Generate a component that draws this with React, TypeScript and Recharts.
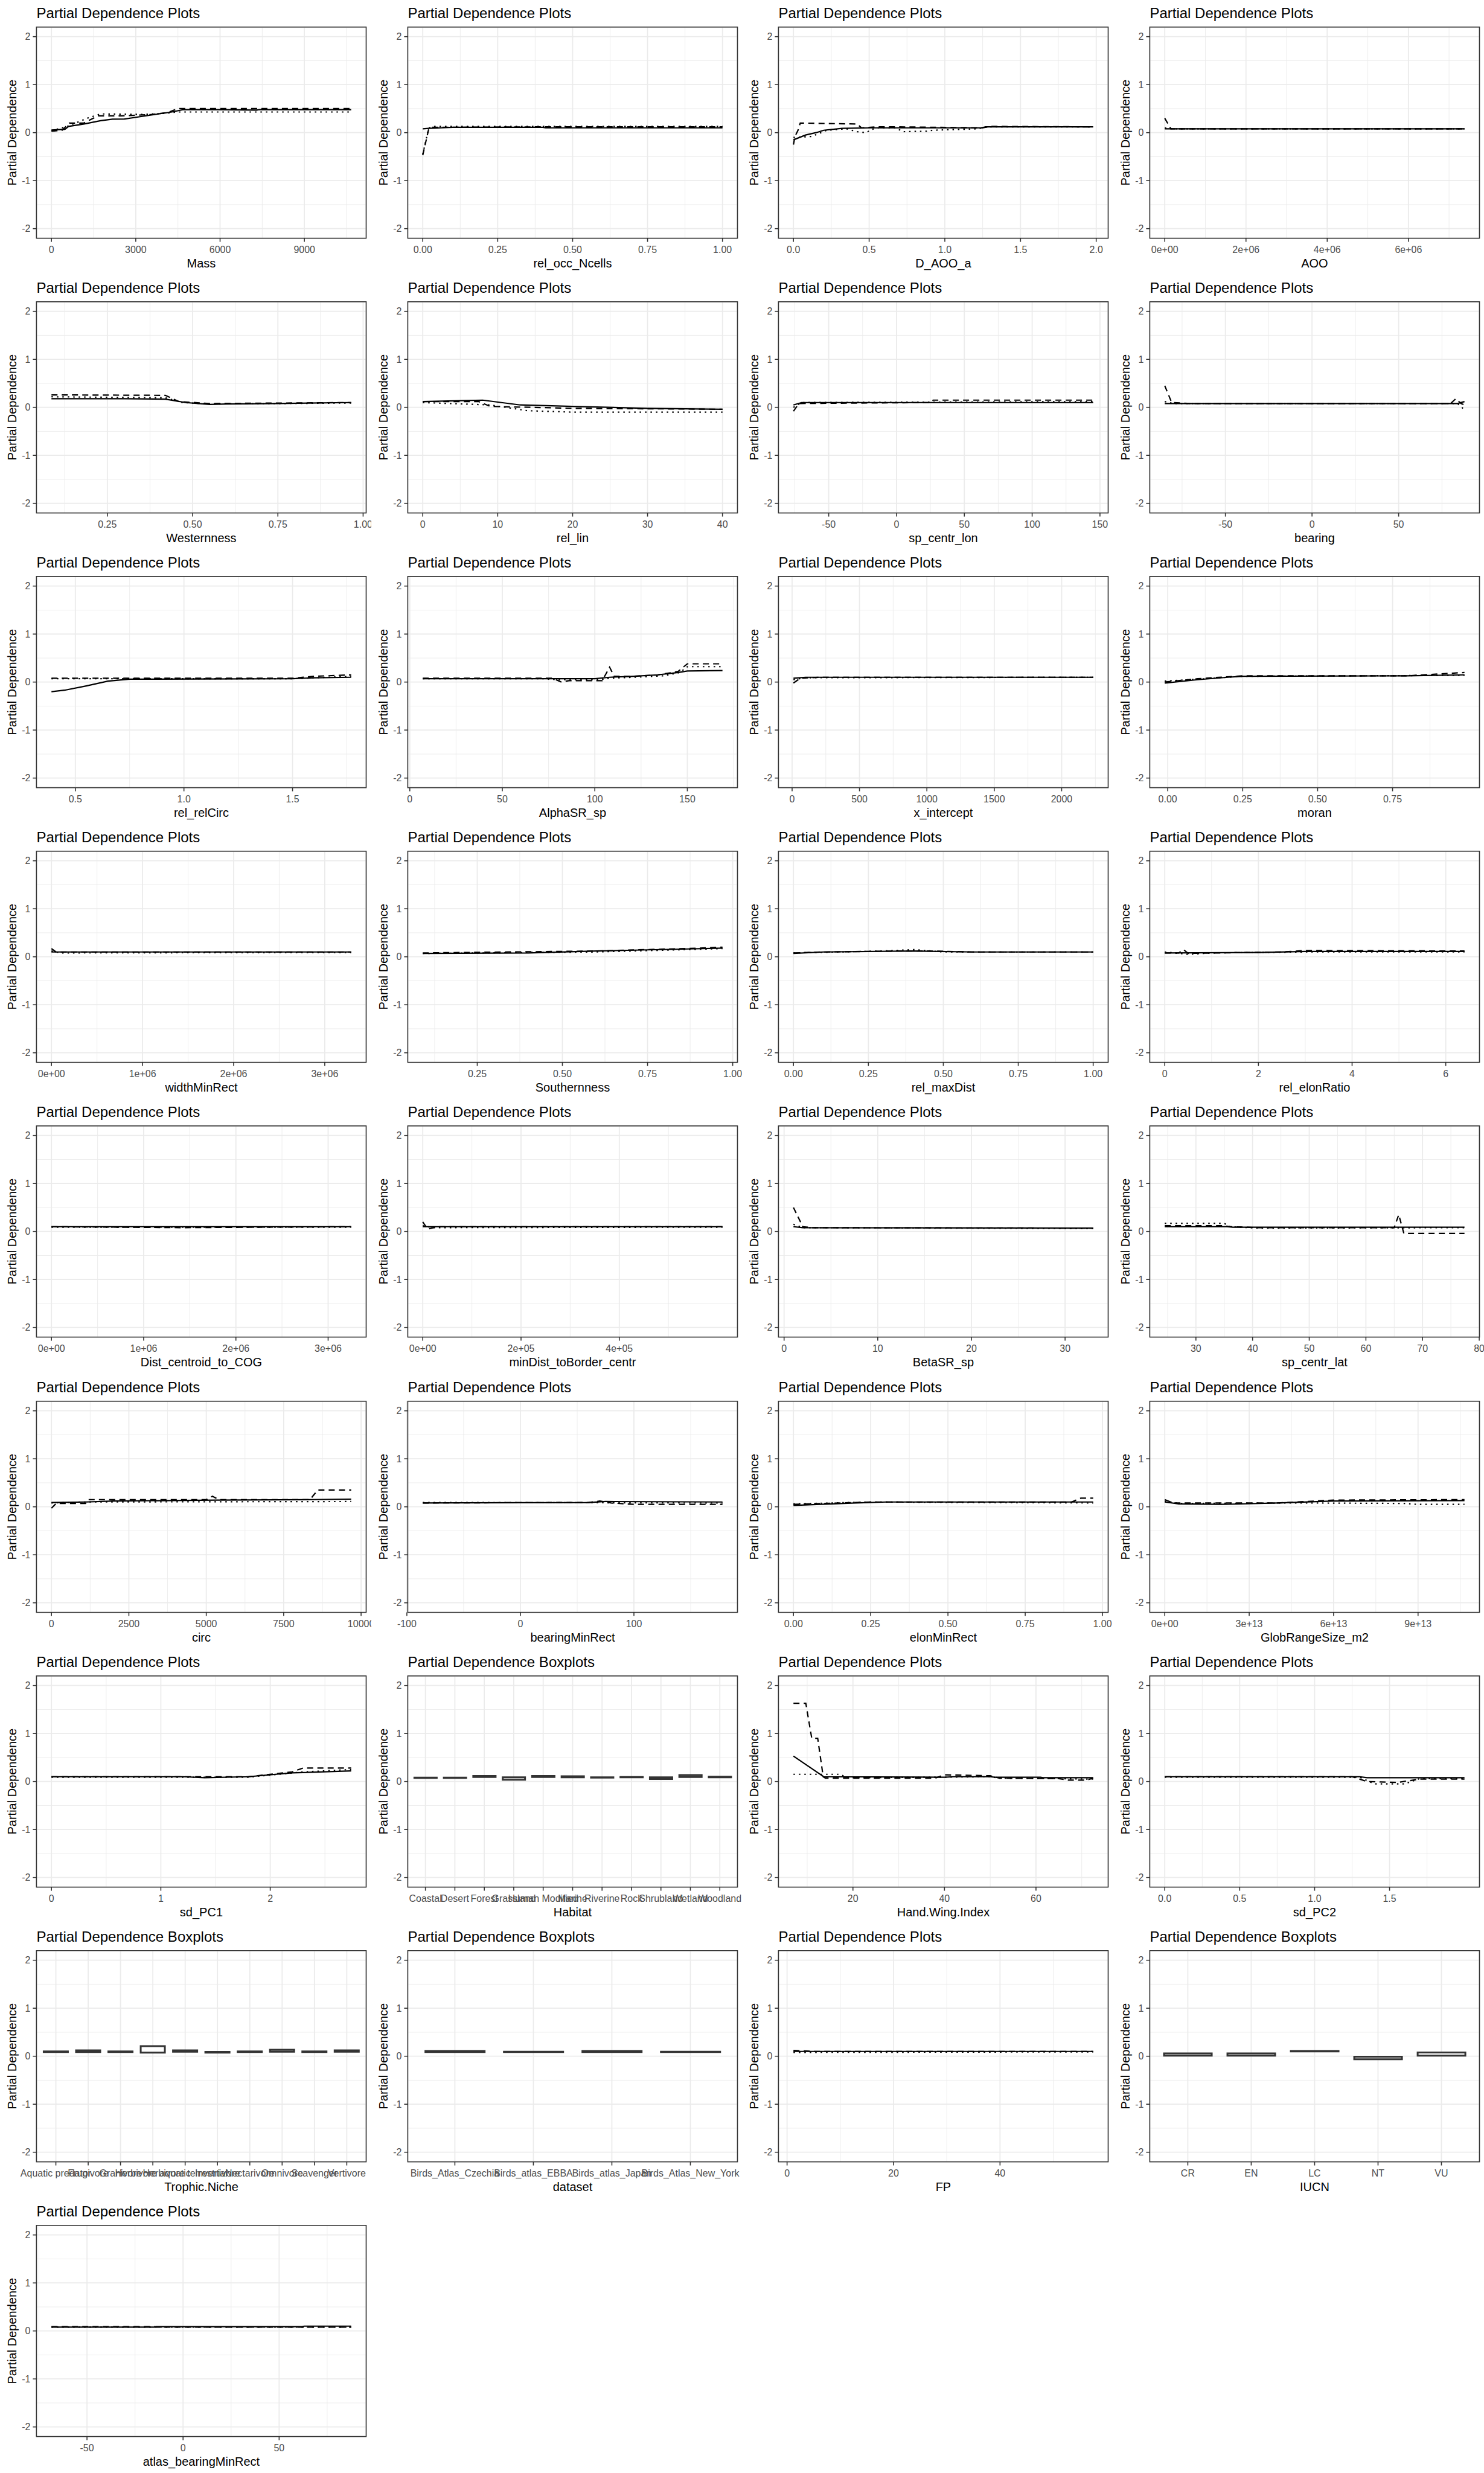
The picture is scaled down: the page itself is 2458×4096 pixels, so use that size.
import React from 'react';
import { LineChart, Line, BarChart, Bar, XAxis, YAxis, CartesianGrid } from 'recharts';

// ---------- values ----------
// each series is a list of [x, partial dependence] pairs

const massTicks = [0, 3000, 6000, 9000];
const massLabels = ['0', '3000', '6000', '9000'];
const massSolid = [[0, 0.055], [480, 0.07], [610, 0.13], [1160, 0.18], [1750, 0.25], [2170, 0.28], [2600, 0.285], [3010, 0.32], [3690, 0.38], [4280, 0.43], [4700, 0.48], [6000, 0.48], [7300, 0.47], [7400, 0.48], [10665, 0.48]];
const massDashed = [[0, 0.03], [380, 0.05], [640, 0.2], [1150, 0.2], [1660, 0.35], [2500, 0.35], [2900, 0.36], [3600, 0.38], [4150, 0.42], [4480, 0.5], [10665, 0.5]];
const massDotted = [[0, 0.04], [560, 0.13], [1320, 0.31], [1750, 0.39], [3260, 0.38], [4000, 0.4], [4480, 0.43], [10665, 0.43]];

const occTicks = [0, 0.25, 0.5, 0.75, 1];
const occLabels = ['0.00', '0.25', '0.50', '0.75', '1.00'];
const occSolid = [[0, 0.08], [0.02, 0.09], [0.06, 0.1], [0.1, 0.11], [0.4, 0.11], [0.41, 0.1], [1, 0.1]];
const occDashed = [[0, -0.47], [0.02, 0.08], [0.03, 0.11], [0.4, 0.12], [1, 0.12]];
const occDotted = [[0, -0.45], [0.02, 0.1], [0.04, 0.13], [1, 0.13]];

const daooTicks = [0, 0.5, 1, 1.5, 2];
const daooLabels = ['0.0', '0.5', '1.0', '1.5', '2.0'];
const daooSolid = [[0, -0.15], [0.08, -0.05], [0.15, 0], [0.2, 0.05], [0.32, 0.09], [0.5, 0.1], [1.24, 0.1], [1.27, 0.12], [1.98, 0.12]];
const daooDashed = [[0, -0.25], [0.01, -0.08], [0.03, 0.05], [0.045, 0.2], [0.42, 0.18], [0.45, 0.1], [0.55, 0.12], [0.7, 0.12], [1.25, 0.1], [1.3, 0.13], [1.98, 0.12]];
const daooDotted = [[0, -0.1], [0.12, -0.08], [0.22, 0.05], [0.35, 0.08], [0.42, 0.02], [0.48, 0], [0.52, 0.07], [0.56, 0.1], [0.68, 0.1], [0.72, 0.02], [0.88, 0.03], [0.92, 0.05], [1.22, 0.08], [1.27, 0.12], [1.98, 0.12]];

const aooTicks = [0, 2e6, 4e6, 6e6];
const aooLabels = ['0e+00', '2e+06', '4e+06', '6e+06'];
const aooSolid = [[0, 0.08], [7.38e6, 0.08]];
const aooDashed = [[0, 0.3], [0.15e6, 0.08], [7.38e6, 0.08]];
const aooDotted = [[0, 0.1], [0.2e6, 0.08], [7.38e6, 0.08]];

const westTicks = [0.25, 0.5, 0.75, 1];
const westLabels = ['0.25', '0.50', '0.75', '1.00'];
const westSolid = [[0.086, 0.18], [0.3, 0.18], [0.42, 0.17], [0.48, 0.1], [0.55, 0.06], [0.6, 0.07], [0.75, 0.08], [0.965, 0.1]];
const westDashed = [[0.086, 0.26], [0.42, 0.25], [0.46, 0.12], [0.55, 0.08], [0.965, 0.1]];
const westDotted = [[0.086, 0.22], [0.42, 0.2], [0.47, 0.1], [0.55, 0.07], [0.965, 0.09]];

const linTicks = [0, 10, 20, 30, 40];
const linLabels = ['0', '10', '20', '30', '40'];
const linSolid = [[0, 0.12], [8, 0.15], [13, 0.05], [20, 0.02], [30, -0.02], [40, -0.04]];
const linDashed = [[0, 0.12], [7.5, 0.12], [9, 0.02], [20, -0.02], [40, -0.04]];
const linDotted = [[0, 0.1], [9, 0.05], [14, -0.07], [20, -0.1], [40, -0.1]];

const lonTicks = [-50, 0, 50, 100, 150];
const lonLabels = ['-50', '0', '50', '100', '150'];
const lonSolid = [[-76, 0.05], [-70, 0.1], [145, 0.1]];
const lonDashed = [[-76, -0.08], [-72, 0.08], [25, 0.1], [27, 0.15], [145, 0.15]];
const lonDotted = [[-76, 0], [-70, 0.1], [145, 0.12]];

const bearTicks = [-50, 0, 50];
const bearLabels = ['-50', '0', '50'];
const bearSolid = [[-85, 0.08], [84, 0.08], [88, 0.12]];
const bearDashed = [[-85, 0.45], [-81, 0.1], [-70, 0.08], [80, 0.08], [83, 0.18], [86, 0.08], [88, 0.05]];
const bearDotted = [[-85, 0.12], [-80, 0.08], [84, 0.08], [88, -0.05]];

const circRelTicks = [0.5, 1, 1.5];
const circRelLabels = ['0.5', '1.0', '1.5'];
const circRelSolid = [[0.39, -0.2], [0.45, -0.17], [0.55, -0.08], [0.65, 0.02], [0.75, 0.06], [1.5, 0.07], [1.6, 0.09], [1.77, 0.1]];
const circRelDashed = [[0.39, 0.08], [1.5, 0.08], [1.6, 0.12], [1.77, 0.15]];
const circRelDotted = [[0.39, 0.07], [1.5, 0.07], [1.77, 0.12]];

const alphaTicks = [0, 50, 100, 150];
const alphaLabels = ['0', '50', '100', '150'];
const alphaSolid = [[7, 0.07], [72, 0.07], [100, 0.07], [108, 0.1], [121, 0.12], [134, 0.15], [145, 0.2], [150, 0.23], [169, 0.24]];
const alphaDashed = [[7, 0.08], [77, 0.08], [82, 0], [86, 0.03], [104, 0.03], [108, 0.31], [110.5, 0.12], [121, 0.12], [134, 0.15], [145, 0.22], [150, 0.38], [169, 0.38]];
const alphaDotted = [[7, 0.07], [72, 0.07], [80, 0.05], [103, 0.05], [108, 0.08], [121, 0.1], [137, 0.13], [146, 0.2], [150, 0.32], [169, 0.32]];

const xintTicks = [0, 500, 1000, 1500, 2000];
const xintLabels = ['0', '500', '1000', '1500', '2000'];
const xintSolid = [[10, 0.08], [100, 0.1], [2234, 0.1]];
const xintDashed = [[10, -0.02], [60, 0.08], [200, 0.1], [2234, 0.1]];
const xintDotted = [[10, 0.05], [100, 0.09], [2234, 0.1]];

const moranTicks = [0, 0.25, 0.5, 0.75];
const moranLabels = ['0.00', '0.25', '0.50', '0.75'];
const moranSolid = [[-0.01, -0.02], [0.1, 0.05], [0.2, 0.1], [0.25, 0.12], [0.8, 0.13], [0.99, 0.15]];
const moranDashed = [[-0.01, 0], [0.1, 0.07], [0.25, 0.13], [0.8, 0.13], [0.99, 0.2]];
const moranDotted = [[-0.01, 0.02], [0.1, 0.06], [0.25, 0.12], [0.99, 0.14]];

const widthTicks = [0, 1e6, 2e6, 3e6];
const widthLabels = ['0e+00', '1e+06', '2e+06', '3e+06'];
const widthSolid = [[0, 0.1], [3.29e6, 0.1]];
const widthDashed = [[0, 0.17], [0.05e6, 0.1], [3.29e6, 0.1]];
const widthDotted = [[0, 0.12], [0.1e6, 0.08], [3.29e6, 0.09]];

const southTicks = [0.25, 0.5, 0.75, 1];
const southLabels = ['0.25', '0.50', '0.75', '1.00'];
const southSolid = [[0.09, 0.07], [0.4, 0.08], [0.6, 0.12], [0.85, 0.16], [0.97, 0.18]];
const southDashed = [[0.09, 0.08], [0.6, 0.12], [0.9, 0.18], [0.97, 0.2]];
const southDotted = [[0.09, 0.07], [0.6, 0.1], [0.97, 0.17]];

const maxDistTicks = [0, 0.25, 0.5, 0.75, 1];
const maxDistLabels = ['0.00', '0.25', '0.50', '0.75', '1.00'];
const maxDistSolid = [[0, 0.07], [0.1, 0.1], [0.4, 0.12], [0.6, 0.1], [1, 0.1]];
const maxDistDashed = [[0, 0.08], [0.1, 0.1], [0.35, 0.12], [0.45, 0.12], [0.6, 0.1], [1, 0.1]];
const maxDistDotted = [[0, 0.08], [0.3, 0.12], [0.4, 0.15], [0.5, 0.1], [1, 0.1]];

const elonRatioTicks = [0, 2, 4, 6];
const elonRatioLabels = ['0', '2', '4', '6'];
const elonRatioSolid = [[0, 0.08], [2, 0.09], [3, 0.11], [6.4, 0.11]];
const elonRatioDashed = [[0, 0.08], [0.3, 0.08], [0.4, 0.15], [0.5, 0.07], [2.5, 0.1], [3, 0.13], [6.4, 0.12]];
const elonRatioDotted = [[0, 0.1], [0.5, 0.05], [1, 0.08], [3, 0.1], [6.4, 0.1]];

const cogTicks = [0, 1e6, 2e6, 3e6];
const cogLabels = ['0e+00', '1e+06', '2e+06', '3e+06'];
const cogSolid = [[0, 0.1], [3.25e6, 0.1]];
const cogDashed = [[0, 0.1], [1.4e6, 0.08], [3.25e6, 0.1]];
const cogDotted = [[0, 0.09], [3.25e6, 0.09]];

const borderTicks = [0, 2e5, 4e5];
const borderLabels = ['0e+00', '2e+05', '4e+05'];
const borderSolid = [[0, 0.1], [6.1e5, 0.1]];
const borderDashed = [[0, 0.2], [0.1e5, 0.05], [0.3e5, 0.1], [6.1e5, 0.1]];
const borderDotted = [[0, 0.12], [0.2e5, 0.08], [6.1e5, 0.09]];

const betaTicks = [0, 10, 20, 30];
const betaLabels = ['0', '10', '20', '30'];
const betaSolid = [[1, 0.1], [2, 0.08], [33, 0.07]];
const betaDashed = [[1, 0.5], [2, 0.1], [3, 0.08], [33, 0.07]];
const betaDotted = [[1, 0.15], [2, 0.08], [33, 0.06]];

const latTicks = [30, 40, 50, 60, 70, 80];
const latLabels = ['30', '40', '50', '60', '70', '80'];
const latSolid = [[24.5, 0.1], [35.5, 0.1], [36.5, 0.09], [77.4, 0.09]];
const latDashed = [[24.5, 0.12], [35, 0.12], [36, 0.1], [41, 0.08], [65, 0.08], [65.8, 0.35], [66.7, -0.04], [77.4, -0.04]];
const latDotted = [[24.5, 0.17], [35, 0.17], [36, 0.1], [41, 0.07], [77.4, 0.08]];

const circTicks = [0, 2500, 5000, 7500, 10000];
const circLabels = ['0', '2500', '5000', '7500', '10000'];
const circSolid = [[0, 0.09], [1100, 0.1], [2000, 0.12], [5300, 0.14], [8400, 0.15], [9680, 0.16]];
const circDashed = [[0, -0.03], [150, 0.07], [1100, 0.07], [1200, 0.15], [5000, 0.15], [5200, 0.22], [5400, 0.15], [8350, 0.15], [8600, 0.35], [9680, 0.35]];
const circDotted = [[0, 0.08], [1000, 0.1], [9680, 0.11]];

const bmrTicks = [-100, 0, 100];
const bmrLabels = ['-100', '0', '100'];
const bmrSolid = [[-86, 0.08], [60, 0.09], [75, 0.11], [178, 0.1]];
const bmrDashed = [[-86, 0.08], [60, 0.09], [70, 0.12], [80, 0.08], [100, 0.05], [178, 0.05]];
const bmrDotted = [[-86, 0.09], [178, 0.08]];

const elonTicks = [0, 0.25, 0.5, 0.75, 1];
const elonLabels = ['0.00', '0.25', '0.50', '0.75', '1.00'];
const elonSolid = [[0, 0.03], [0.2, 0.08], [0.3, 0.1], [0.97, 0.1]];
const elonDashed = [[0, 0.05], [0.25, 0.1], [0.9, 0.1], [0.93, 0.18], [0.97, 0.18]];
const elonDotted = [[0, 0.06], [0.25, 0.1], [0.97, 0.08]];

const globTicks = [0, 3e13, 6e13, 9e13];
const globLabels = ['0e+00', '3e+13', '6e+13', '9e+13'];
const globSolid = [[0, 0.1], [0.5e13, 0.06], [2e13, 0.05], [4e13, 0.08], [6e13, 0.12], [1.065e14, 0.13]];
const globDashed = [[0, 0.15], [0.3e13, 0.08], [4e13, 0.08], [6e13, 0.14], [1.065e14, 0.15]];
const globDotted = [[0, 0.12], [0.5e13, 0.07], [5e13, 0.08], [8.5e13, 0.07], [9e13, 0.05], [1.065e14, 0.05]];

const pc1Ticks = [0, 1, 2];
const pc1Labels = ['0', '1', '2'];
const pc1Solid = [[0, 0.1], [1.2, 0.1], [1.4, 0.08], [1.8, 0.1], [2.2, 0.18], [2.74, 0.22]];
const pc1Dashed = [[0, 0.1], [1.8, 0.1], [2.2, 0.2], [2.3, 0.28], [2.74, 0.28]];
const pc1Dotted = [[0, 0.09], [1.8, 0.09], [2.3, 0.2], [2.74, 0.25]];

const habitatCats = ['Coastal', 'Desert', 'Forest', 'Grassland', 'Human Modified', 'Marine', 'Riverine', 'Rock', 'Shrubland', 'Wetland', 'Woodland'];
const habitatBoxes = [[0.075, 0.082], [0.075, 0.082], [0.093, 0.115], [0.038, 0.086], [0.093, 0.115], [0.086, 0.108], [0.082, 0.086], [0.086, 0.093], [0.053, 0.086], [0.093, 0.133], [0.086, 0.1]];

const hwiTicks = [20, 40, 60];
const hwiLabels = ['20', '40', '60'];
const hwiSolid = [[7, 0.53], [13.6, 0.1], [40, 0.09], [42, 0.1], [50, 0.1], [51, 0.09], [61, 0.09], [61.5, 0.08], [72.5, 0.08]];
const hwiDashed = [[7, 1.63], [9.7, 1.63], [11, 0.9], [12.3, 0.9], [13.5, 0.1], [14, 0.07], [38, 0.07], [40, 0.14], [50, 0.12], [52, 0.07], [65, 0.06], [67, 0.03], [71, 0.03], [72.5, 0.07]];
const hwiDotted = [[7, 0.15], [17, 0.15], [19, 0.08], [40, 0.09], [50, 0.1], [52, 0.07], [65, 0.06], [72.5, 0.05]];

const pc2Ticks = [0, 0.5, 1, 1.5];
const pc2Labels = ['0.0', '0.5', '1.0', '1.5'];
const pc2Solid = [[0, 0.1], [1.3, 0.1], [1.35, 0.08], [2, 0.08]];
const pc2Dashed = [[0, 0.1], [1.25, 0.1], [1.35, 0], [1.55, -0.02], [1.7, 0.05], [2, 0.05]];
const pc2Dotted = [[0, 0.09], [1.3, 0.09], [1.4, -0.05], [1.6, -0.05], [1.7, 0.06], [2, 0.06]];

const trophicCats = ['Aquatic predator', 'Frugivore', 'Granivore', 'Herbivore aquatic', 'Herbivore terrestrial', 'Invertivore', 'Nectarivore', 'Omnivore', 'Scavenger', 'Vertivore'];
const trophicBoxes = [[0.086, 0.1], [0.086, 0.122], [0.086, 0.1], [0.075, 0.21], [0.093, 0.122], [0.075, 0.09], [0.086, 0.1], [0.093, 0.133], [0.086, 0.1], [0.093, 0.122]];

const datasetCats = ['Birds_Atlas_Czechia', 'Birds_atlas_EBBA', 'Birds_atlas_Japan', 'Birds_Atlas_New_York'];
const datasetBoxes = [[0.086, 0.108], [0.086, 0.093], [0.086, 0.108], [0.086, 0.093]];

const fpTicks = [0, 20, 40];
const fpLabels = ['0', '20', '40'];
const fpSolid = [[1.2, 0.1], [57.5, 0.1]];
const fpDashed = [[1.2, 0.12], [5, 0.1], [57.5, 0.1]];
const fpDotted = [[1.2, 0.08], [57.5, 0.09]];

const iucnCats = ['CR', 'EN', 'LC', 'NT', 'VU'];
const iucnBoxes = [[0.013, 0.06], [0.013, 0.06], [0.1, 0.108], [-0.064, -0.009], [0.013, 0.078]];

const abmrTicks = [-50, 0, 50];
const abmrLabels = ['-50', '0', '50'];
const abmrSolid = [[-68.5, 0.08], [-15, 0.08], [-14, 0.09], [62, 0.09], [63, 0.1], [87.5, 0.1]];
const abmrDashed = [[-68.5, 0.09], [-15, 0.09], [-14, 0.08], [87.5, 0.08]];
const abmrDotted = [[-68.5, 0.08], [87.5, 0.08]];

// ---------- layout ----------
const PANEL_W = 614.5;
const PANEL_H = 455.1;
const PLOT_L = 60.4;
const PLOT_T = 44.8;
const PLOT_R = 606.5;
const PLOT_B = 394.6;
const X_AXIS_H = 30;
const FONT = '"Liberation Sans", Arial, Helvetica, sans-serif';
const Y_TICKS = [-2, -1, 0, 1, 2];
const Y_MINOR = [-1.5, -0.5, 0.5, 1.5];
const Y_DOMAIN = [-2.2, 2.2];

const line = (xLabel, ticks, labels, solid, dashed, dotted) => ({ kind: 'line', xLabel, ticks, labels, solid, dashed, dotted });
const box = (xLabel, cats, boxes) => ({ kind: 'box', xLabel, cats, boxes });

const panels = [
  line('Mass', massTicks, massLabels, massSolid, massDashed, massDotted),
  line('rel_occ_Ncells', occTicks, occLabels, occSolid, occDashed, occDotted),
  line('D_AOO_a', daooTicks, daooLabels, daooSolid, daooDashed, daooDotted),
  line('AOO', aooTicks, aooLabels, aooSolid, aooDashed, aooDotted),
  line('Westernness', westTicks, westLabels, westSolid, westDashed, westDotted),
  line('rel_lin', linTicks, linLabels, linSolid, linDashed, linDotted),
  line('sp_centr_lon', lonTicks, lonLabels, lonSolid, lonDashed, lonDotted),
  line('bearing', bearTicks, bearLabels, bearSolid, bearDashed, bearDotted),
  line('rel_relCirc', circRelTicks, circRelLabels, circRelSolid, circRelDashed, circRelDotted),
  line('AlphaSR_sp', alphaTicks, alphaLabels, alphaSolid, alphaDashed, alphaDotted),
  line('x_intercept', xintTicks, xintLabels, xintSolid, xintDashed, xintDotted),
  line('moran', moranTicks, moranLabels, moranSolid, moranDashed, moranDotted),
  line('widthMinRect', widthTicks, widthLabels, widthSolid, widthDashed, widthDotted),
  line('Southernness', southTicks, southLabels, southSolid, southDashed, southDotted),
  line('rel_maxDist', maxDistTicks, maxDistLabels, maxDistSolid, maxDistDashed, maxDistDotted),
  line('rel_elonRatio', elonRatioTicks, elonRatioLabels, elonRatioSolid, elonRatioDashed, elonRatioDotted),
  line('Dist_centroid_to_COG', cogTicks, cogLabels, cogSolid, cogDashed, cogDotted),
  line('minDist_toBorder_centr', borderTicks, borderLabels, borderSolid, borderDashed, borderDotted),
  line('BetaSR_sp', betaTicks, betaLabels, betaSolid, betaDashed, betaDotted),
  line('sp_centr_lat', latTicks, latLabels, latSolid, latDashed, latDotted),
  line('circ', circTicks, circLabels, circSolid, circDashed, circDotted),
  line('bearingMinRect', bmrTicks, bmrLabels, bmrSolid, bmrDashed, bmrDotted),
  line('elonMinRect', elonTicks, elonLabels, elonSolid, elonDashed, elonDotted),
  line('GlobRangeSize_m2', globTicks, globLabels, globSolid, globDashed, globDotted),
  line('sd_PC1', pc1Ticks, pc1Labels, pc1Solid, pc1Dashed, pc1Dotted),
  box('Habitat', habitatCats, habitatBoxes),
  line('Hand.Wing.Index', hwiTicks, hwiLabels, hwiSolid, hwiDashed, hwiDotted),
  line('sd_PC2', pc2Ticks, pc2Labels, pc2Solid, pc2Dashed, pc2Dotted),
  box('Trophic.Niche', trophicCats, trophicBoxes),
  box('dataset', datasetCats, datasetBoxes),
  line('FP', fpTicks, fpLabels, fpSolid, fpDashed, fpDotted),
  box('IUCN', iucnCats, iucnBoxes),
  line('atlas_bearingMinRect', abmrTicks, abmrLabels, abmrSolid, abmrDashed, abmrDotted),
];

const toPts = (arr) => arr.map(([x, y]) => ({ x, y }));

// ggplot minor breaks: halfway between majors, also past the ends if still inside the panel
const minorBreaks = (ticks, dom) => {
  const step = ticks[1] - ticks[0];
  const out = [];
  for (let i = -1; i < ticks.length; i++) {
    const v = ticks[0] + step * (i + 0.5);
    if (v > dom[0] && v < dom[1]) out.push(v);
  }
  return out;
};

const tickStyle = { fontSize: 16, fill: '#4D4D4D', fontFamily: FONT };
const tickLine = { stroke: '#333333', strokeWidth: 1.6 };
const chartMargin = { top: PLOT_T, right: PANEL_W - PLOT_R, left: 0, bottom: PANEL_H - PLOT_B - X_AXIS_H };

const yAxis = (
  <YAxis
    type="number"
    domain={Y_DOMAIN}
    ticks={Y_TICKS}
    allowDataOverflow
    width={PLOT_L}
    axisLine={false}
    tickLine={tickLine}
    tickSize={6}
    tickMargin={4}
    tick={tickStyle}
  />
);

const LinePanel = ({ p }) => {
  const xs = [...p.solid, ...p.dashed, ...p.dotted].map((d) => d[0]);
  const lo = Math.min(...xs);
  const hi = Math.max(...xs);
  const pad = (hi - lo) * 0.05;
  const dom = [lo - pad, hi + pad];
  const minorX = minorBreaks(p.ticks, dom);
  const common = { type: 'linear', dataKey: 'y', dot: false, activeDot: false, stroke: '#000000', strokeWidth: 2.2, strokeLinecap: 'butt', isAnimationActive: false };
  return (
    <LineChart width={PANEL_W} height={PANEL_H} margin={chartMargin}>
      <CartesianGrid stroke="#EBEBEB" strokeWidth={0.9} verticalValues={minorX} horizontalValues={Y_MINOR} />
      <CartesianGrid stroke="#EBEBEB" strokeWidth={1.8} />
      <XAxis
        type="number"
        dataKey="x"
        domain={dom}
        ticks={p.ticks}
        allowDataOverflow
        interval={0}
        tickFormatter={(v) => p.labels[p.ticks.indexOf(v)] ?? String(v)}
        axisLine={false}
        tickLine={tickLine}
        tickSize={6}
        tickMargin={7}
        height={X_AXIS_H}
        tick={tickStyle}
      />
      {yAxis}
      <Line {...common} data={toPts(p.solid)} />
      <Line {...common} data={toPts(p.dashed)} strokeDasharray="10 7" />
      <Line {...common} data={toPts(p.dotted)} strokeDasharray="2.5 6.5" />
    </LineChart>
  );
};

const BoxPanel = ({ p }) => {
  const n = p.cats.length;
  // ggplot leaves 0.6 of a category on each side of a discrete axis
  const band = (PLOT_R - PLOT_L) / (n + 0.2);
  const data = p.cats.map((c, i) => ({ name: c, box: p.boxes[i] }));
  return (
    <BarChart width={PANEL_W} height={PANEL_H} margin={chartMargin} data={data} barCategoryGap="12.5%">
      <CartesianGrid stroke="#EBEBEB" strokeWidth={0.9} vertical={false} horizontalValues={Y_MINOR} />
      <CartesianGrid stroke="#EBEBEB" strokeWidth={1.8} />
      <XAxis
        type="category"
        dataKey="name"
        interval={0}
        padding={{ left: band * 0.1, right: band * 0.1 }}
        axisLine={false}
        tickLine={tickLine}
        tickSize={6}
        tickMargin={7}
        height={X_AXIS_H}
        tick={tickStyle}
      />
      {yAxis}
      <Bar dataKey="box" fill="#FFFFFF" stroke="#333333" strokeWidth={3} isAnimationActive={false} />
    </BarChart>
  );
};

const Frame = ({ title, xLabel }) => (
  <svg width={PANEL_W} height={PANEL_H} style={{ position: 'absolute', left: 0, top: 0, pointerEvents: 'none' }}>
    <rect x={PLOT_L} y={PLOT_T} width={PLOT_R - PLOT_L} height={PLOT_B - PLOT_T} fill="none" stroke="#333333" strokeWidth={1.6} />
    <text x={PLOT_L} y={29.5} fontSize={24} fontFamily={FONT} fill="#000000">{title}</text>
    <text
      transform={`translate(19.7, ${(PLOT_T + PLOT_B) / 2}) rotate(-90)`}
      textAnchor="middle"
      dominantBaseline="central"
      fontSize={20}
      fontFamily={FONT}
      fill="#000000"
    >
      Partial Dependence
    </text>
    <text x={(PLOT_L + PLOT_R) / 2} y={443} textAnchor="middle" fontSize={20} fontFamily={FONT} fill="#000000">{xLabel}</text>
  </svg>
);

export default function App() {
  return (
    <div style={{ position: 'absolute', left: 0, top: 0, width: 2458, height: 4096, background: '#FFFFFF', fontFamily: FONT }}>
      {panels.map((p, i) => (
        <div
          key={i}
          style={{ position: 'absolute', left: (i % 4) * PANEL_W, top: Math.floor(i / 4) * PANEL_H, width: PANEL_W, height: PANEL_H }}
        >
          {p.kind === 'line' ? <LinePanel p={p} /> : <BoxPanel p={p} />}
          <Frame title={p.kind === 'line' ? 'Partial Dependence Plots' : 'Partial Dependence Boxplots'} xLabel={p.xLabel} />
        </div>
      ))}
    </div>
  );
}
